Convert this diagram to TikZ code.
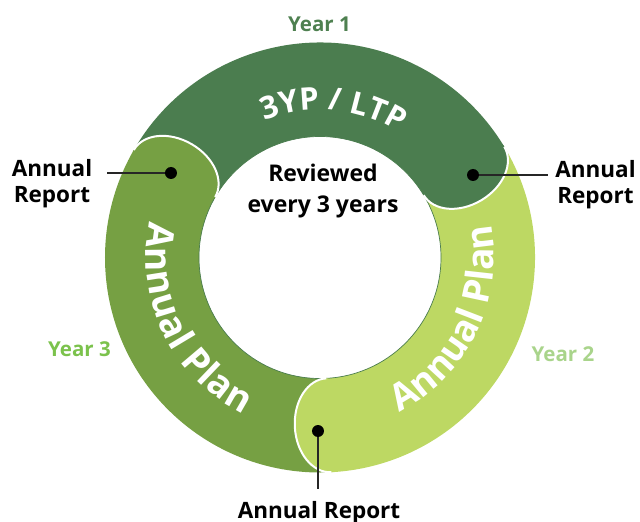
\documentclass[tikz,border=0pt]{standalone}
\usepackage{fontspec}
\setmainfont{Open Sans}
\usetikzlibrary{decorations.text}

\definecolor{dkg}{HTML}{4B7D4F}
\definecolor{mdg}{HTML}{76A043}
\definecolor{ltg}{HTML}{BDD863}
\definecolor{yrone}{HTML}{4E8050}
\definecolor{yrtwo}{HTML}{A9D48B}
\definecolor{yrthree}{HTML}{7BC24C}
\definecolor{lnc}{HTML}{262626}

\newcommand\ringtxt{\fontsize{37}{40}\selectfont\bfseries\color{white}}
\newcommand\toptxt{\fontsize{31}{34}\selectfont\bfseries\color{white}}

\begin{document}
\begin{tikzpicture}[x=1pt,y=1pt,
  lab/.style={font=\bfseries\fontsize{22.5}{26}\selectfont, text=black, align=center, inner sep=0pt},
  yearlab/.style={font=\bfseries\fontsize{20.5}{24}\selectfont, inner sep=0pt, anchor=base},
  dotst/.style={circle, fill=black, minimum size=12pt, inner sep=0pt},
  conn/.style={draw=lnc, line width=1.2pt},
  capline/.style={draw=white, line width=2pt}]
\useasboundingbox (-320,-264.5) rectangle (320,257.5);

% ring bands (outer radius 215, inner radius 121)
\fill[dkg] (150:215) arc[start angle=150, end angle=31, radius=215]
  -- (31:121) arc[start angle=31, end angle=150, radius=121] -- cycle;
\fill[ltg] (31:215) arc[start angle=31, end angle=-87, radius=215]
  -- (-87:121) arc[start angle=-87, end angle=31, radius=121] -- cycle;
\fill[mdg] (273:215) arc[start angle=273, end angle=150, radius=215]
  -- (150:121) arc[start angle=150, end angle=273, radius=121] -- cycle;
\draw[dkg, line width=0.7pt] (0,0) circle (121);

% rounded heads of the bands, with a white rim
\foreach \a/\c in {31/dkg, -87/ltg, 150/mdg} {
  \begin{scope}[shift={(\a:168)}, rotate=\a]
    \fill[\c] (47,2) -- (47,0) arc[start angle=0, end angle=-180, x radius=47, y radius=34]
      -- (-47,2) -- cycle;
    \draw[capline] (47,0) arc[start angle=0, end angle=-180, x radius=47, y radius=34];
  \end{scope}
}

% curved band titles
\path[decorate, decoration={text along path, text={|\toptxt|3YP / LTP}, text align=fit to path}]
  (112:148) arc[start angle=112, end angle=60, radius=148];
\path[decorate, decoration={text along path, text={|\ringtxt|Annual Plan}, text align=fit to path}]
  (-63:174) arc[start angle=-63, end angle=11, radius=174];
\path[decorate, decoration={text along path, text={|\ringtxt|Annual Plan}, text align=fit to path}]
  (168:174) arc[start angle=168, end angle=244, radius=174];

% year labels
\node[yearlab, text=yrone] (y1) at (-0.5,225.8) {Year 1};
\node[yearlab, text=yrtwo] (y2) at (243,-103.5) {Year 2};
\node[yearlab, text=yrthree] (y3) at (-240.5,-99.2) {Year 3};

% centre text (base anchor sits on the last line)
\node[lab, font=\bfseries\fontsize{23}{31}\selectfont, anchor=base] (rev) at (3,44.5) {Reviewed\\every 3 years};

% report labels
\node[lab, anchor=base] (arL) at (-268,54.5) {Annual\\Report};
\node[lab, anchor=base] (arR) at (275.5,53.5) {Annual\\Report};
\node[lab, anchor=base] (arB) at (-1,-260.5) {Annual Report};

% leader lines and report markers
\coordinate (eL) at (-213,84.5);
\coordinate (eR) at (228,82.5);
\coordinate (eB) at (-2,-231.5);
\coordinate (pL) at (-149,84.5);
\coordinate (pR) at (153,82.5);
\coordinate (pB) at (-2,-173.5);
\draw[conn] (pL) -- (eL);
\draw[conn] (pR) -- (eR);
\draw[conn] (pB) -- (eB);
\node[dotst] (dL) at (pL) {};
\node[dotst] (dR) at (pR) {};
\node[dotst] (dB) at (pB) {};
\end{tikzpicture}
\end{document}
